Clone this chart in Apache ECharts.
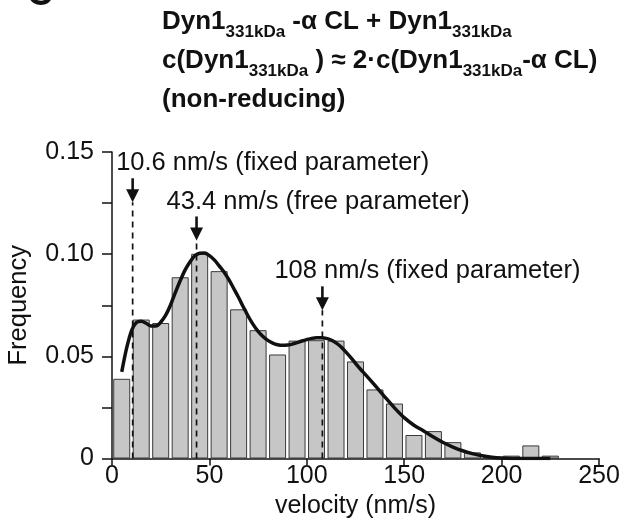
<!DOCTYPE html>
<html><head><meta charset="utf-8">
<script src="https://cdn.jsdelivr.net/npm/echarts/dist/echarts.min.js"></script>
<style>html,body{margin:0;padding:0;background:#fff}#c{width:634px;height:520px}</style>
</head><body><div id="c"></div>
<script>
// ---- data ----
const binStarts = [0,10,20,30,40,50,60,70,80,90,100,110,120,130,140,150,160,170,180,190,200,210,220];
const binWidth = 10;
const frequencies = [0.039,0.068,0.0663,0.0887,0.1002,0.0917,0.073,0.0628,0.0509,0.0577,0.0579,0.0577,0.0475,0.0338,0.0269,0.0115,0.0134,0.008,0.003,0.0009,0.0014,0.0064,0.0014];
const fitVelocity = [5,7.5,10,12.5,15,17.5,20,22.5,25,27.5,30,32.5,35,37.5,40,42.5,45,47.5,50,52.5,55,57.5,60,62.5,65,67.5,70,72.5,75,77.5,80,82.5,85,87.5,90,92.5,95,97.5,100,102.5,105,107.5,110,112.5,115,117.5,120,122.5,125,127.5,130,135,140,145,150,155,160,165,170,175,180,185,190,195,200,205,215,225];
const fitFrequency = [0.0424,0.054,0.0625,0.0665,0.0672,0.0662,0.0648,0.0648,0.0667,0.07,0.075,0.0812,0.087,0.0922,0.0962,0.0992,0.1005,0.1006,0.0993,0.0972,0.0943,0.0913,0.0875,0.0832,0.0788,0.074,0.0695,0.0655,0.0622,0.0597,0.0578,0.0565,0.0557,0.0554,0.0555,0.056,0.0567,0.0575,0.0582,0.0588,0.0591,0.0591,0.0588,0.058,0.0566,0.0547,0.0522,0.0495,0.0466,0.0438,0.0412,0.0358,0.0302,0.0248,0.02,0.0163,0.0135,0.0105,0.0078,0.0056,0.0038,0.0024,0.0013,0.0006,0.0002,0,0,0];
const peakVelocity = [10.6, 43.4, 108];
const peakArrowTip = [0.1254, 0.1067, 0.0725];
const peakLabels = ['10.6 nm/s (fixed parameter)', '43.4 nm/s (free parameter)', '108 nm/s (fixed parameter)'];
const xTickValues = [0, 50, 100, 150, 200, 250];
const yTickLabels = ['0', '0.05', '0.10', '0.15'];
const xAxisTitle = 'velocity (nm/s)';
const yAxisTitle = 'Frequency';
const panelLetter = 'C';

// ---- style ----
const FONT = '"Liberation Sans", Arial, Helvetica, sans-serif';
const labelDx = [-16.5, -30, -48];

const chart = echarts.init(document.getElementById('c'), null, {renderer: 'canvas'});

const series = [
  {
    type: 'bar',
    data: binStarts.map((s, i) => [s + binWidth / 2, frequencies[i]]),
    barWidth: 17,
    itemStyle: {color: '#c6c6c6', borderColor: '#3a3a3a', borderWidth: 1},
    silent: true, z: 2
  },
  {
    type: 'line',
    data: fitVelocity.map((v, i) => [v, fitFrequency[i]]),
    smooth: 0.3,
    showSymbol: false,
    lineStyle: {color: '#111', width: 3.5},
    silent: true, z: 5
  }
];
peakVelocity.forEach((v, i) => {
  series.push({
    type: 'line',
    data: [[v, 0], [v, peakArrowTip[i]]],
    showSymbol: false,
    lineStyle: {color: '#111', width: 1.7, type: [6, 5]},
    silent: true, z: 4
  });
});

chart.setOption({
  animation: false,
  backgroundColor: '#fff',
  grid: {left: 112, right: 35, top: 152, bottom: 61.5, containLabel: false, outerBoundsMode: 'none'},
  title: {
    left: 157, top: -3,
    text: '{b|Dyn1}{s|331kDa}{b| -\u03b1 CL + Dyn1}{s|331kDa}\n{b|c(Dyn1}{s|331kDa}{b| ) \u2248 2\u00b7c(Dyn1}{s|331kDa}{b|-\u03b1 CL)}\n{b|(non-reducing)}',
    textStyle: {
      fontFamily: FONT,
      rich: {
        b: {fontSize: 26, fontWeight: 'bold', fontFamily: FONT, color: '#111', lineHeight: 39, verticalAlign: 'middle'},
        s: {fontSize: 17, fontWeight: 'bold', fontFamily: FONT, color: '#111', lineHeight: 19, verticalAlign: 'bottom'}
      }
    }
  },
  xAxis: {
    type: 'value', min: 0, max: 250, interval: 50,
    name: xAxisTitle, nameLocation: 'middle', nameGap: 35,
    nameTextStyle: {fontFamily: FONT, fontSize: 25, color: '#111'},
    axisLine: {show: true, lineStyle: {color: '#111', width: 1.5}},
    axisTick: {show: true, length: 7, lineStyle: {color: '#111', width: 1.5}},
    axisLabel: {fontFamily: FONT, fontSize: 25, color: '#111', margin: 5,
      formatter: v => (xTickValues.indexOf(v) >= 0 ? String(v) : '')},
    splitLine: {show: false}
  },
  yAxis: {
    type: 'value', min: 0, max: 0.15, interval: 0.025,
    name: yAxisTitle, nameLocation: 'middle', nameGap: 80,
    nameTextStyle: {fontFamily: FONT, fontSize: 25.5, color: '#111'},
    axisLine: {show: true, lineStyle: {color: '#111', width: 1.5}},
    axisTick: {show: true, length: 10, lineStyle: {color: '#111', width: 1.5}},
    axisLabel: {fontFamily: FONT, fontSize: 25, color: '#111', margin: 18,
      formatter: v => {
        const k = Math.round(v / 0.05 * 1000) / 1000;
        return Number.isInteger(k) ? yTickLabels[k] : '';
      }},
    splitLine: {show: false}
  },
  series: series
});

// annotations: arrows and labels placed through the chart's own scale
const graphics = [
  {type: 'text', left: 27, top: -23, style: {text: panelLetter, font: 'bold 36px ' + FONT, fill: '#111'}}
];
peakVelocity.forEach((v, i) => {
  const tip = chart.convertToPixel({gridIndex: 0}, [v, peakArrowTip[i]]);
  const x = tip[0], y = tip[1];
  graphics.push({type: 'line', shape: {x1: x, y1: y - 24, x2: x, y2: y - 10}, style: {stroke: '#111', lineWidth: 2.6}, z: 10});
  graphics.push({type: 'polygon', shape: {points: [[x - 6.5, y - 13], [x + 6.5, y - 13], [x, y]]}, style: {fill: '#111'}, z: 10});
  graphics.push({type: 'text', x: x + labelDx[i], y: y - 39, style: {text: peakLabels[i], font: '25.5px ' + FONT, fill: '#111', textVerticalAlign: 'middle', textAlign: 'left'}, z: 10});
});
chart.setOption({graphic: graphics});
</script>
</body></html>
